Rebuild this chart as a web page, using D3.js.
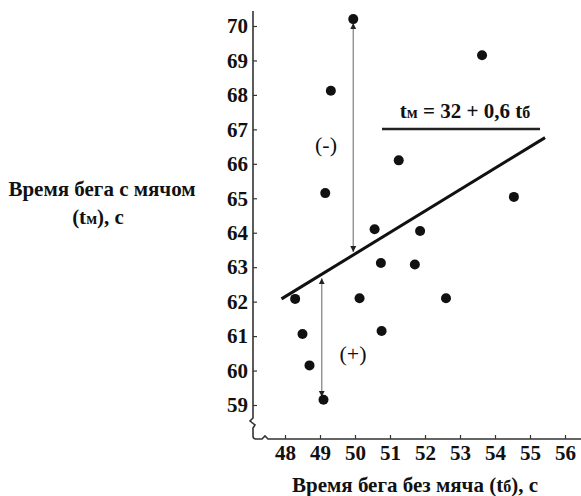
<!DOCTYPE html>
<html>
<head>
<meta charset="utf-8">
<script src="https://cdn.jsdelivr.net/npm/d3@7"></script>
<style>
  body { margin: 0; background: #fff; }
</style>
</head>
<body>
<div id="content"></div>
<script>
// time without ball (x) and with ball (y), seconds
var tB = [49.95, 53.63, 49.31, 51.25, 49.15, 54.54, 50.56, 51.86, 50.74, 51.71, 52.6, 48.29, 50.13, 48.5, 50.76, 48.7, 49.1];
var tM = [70.2, 69.15, 68.12, 66.1, 65.15, 65.04, 64.1, 64.05, 63.12, 63.08, 62.1, 62.08, 62.1, 61.06, 61.15, 60.15, 59.15];
var xTicks = [48, 49, 50, 51, 52, 53, 54, 55, 56];
var yTicks = [59, 60, 61, 62, 63, 64, 65, 66, 67, 68, 69, 70];
// regression line as drawn in the figure
var lineX = [47.9, 55.43];
var lineY = [62.08, 66.76];
// residual arrows: x and the observed value
var residX = [49.95, 49.05];
var residFrom = [70.2, 59.15];

var FONT = "'Liberation Serif', 'Times New Roman', serif";
var width = 581, height = 496;
var svg = d3.select("#content").append("svg")
    .attr("width", width)
    .attr("height", height);

var x = d3.scaleLinear().domain([48, 56]).range([285, 565]);
var y = d3.scaleLinear().domain([59, 70]).range([405, 26]);
var fit = d3.scaleLinear().domain(lineX).range(lineY);

var axisX0 = 253, axisY0 = 439;

function label(sel, size, weight) {
  return sel.style("font-family", FONT)
    .style("font-size", size + "px")
    .style("font-weight", weight || "bold")
    .attr("fill", "#111");
}

// arrow marker
svg.append("defs").append("marker")
    .attr("id", "arr")
    .attr("viewBox", "0 0 10 10")
    .attr("refX", 10).attr("refY", 5)
    .attr("markerWidth", 6).attr("markerHeight", 9)
    .attr("markerUnits", "userSpaceOnUse")
    .attr("orient", "auto-start-reverse")
  .append("path")
    .attr("d", "M0,0L10,5L0,10z")
    .attr("fill", "#222");

// axes lines with breaks
svg.append("path")
    .attr("d", "M" + axisX0 + ",11V418l-3,3l5,4l-2,3V" + (axisY0 - 3) + "q0,3 3,3h6l3,-3l3,3H" + width)
    .attr("fill", "none")
    .attr("stroke", "#333")
    .attr("stroke-width", 1.6);

var yAxis = d3.axisLeft(y)
    .tickValues(yTicks)
    .tickSize(-4)
    .tickPadding(5)
    .tickFormat(d3.format("d"));
var gy = svg.append("g")
    .attr("transform", "translate(" + axisX0 + ",0)")
    .call(yAxis);
gy.select(".domain").remove();
gy.selectAll("line").attr("stroke", "#333").attr("stroke-width", 1.2);
label(gy.selectAll("text"), 21);

var xAxis = d3.axisBottom(x)
    .tickValues(xTicks)
    .tickSize(-4)
    .tickPadding(6)
    .tickFormat(d3.format("d"));
var gx = svg.append("g")
    .attr("transform", "translate(0," + axisY0 + ")")
    .call(xAxis);
gx.select(".domain").remove();
gx.selectAll("line").attr("stroke", "#333").attr("stroke-width", 1.2);
label(gx.selectAll("text"), 21);

// residual arrows
residX.forEach(function (rx, i) {
  var a = residFrom[i], b = fit(rx);
  var top = Math.max(a, b), bot = Math.min(a, b);
  svg.append("line")
      .attr("x1", x(rx)).attr("x2", x(rx))
      .attr("y1", y(top) + 4).attr("y2", y(bot) - 3)
      .attr("stroke", "#888")
      .attr("stroke-width", 1.3)
      .attr("marker-start", "url(#arr)")
      .attr("marker-end", "url(#arr)");
});

// regression line
svg.append("line")
    .attr("x1", x(lineX[0])).attr("y1", y(lineY[0]))
    .attr("x2", x(lineX[1])).attr("y2", y(lineY[1]))
    .attr("stroke", "#111")
    .attr("stroke-width", 3);

// points
svg.selectAll("circle.pt")
    .data(tB.map(function (d, i) { return [d, tM[i]]; }))
  .enter().append("circle")
    .attr("class", "pt")
    .attr("cx", function (d) { return x(d[0]); })
    .attr("cy", function (d) { return y(d[1]); })
    .attr("r", 5)
    .attr("fill", "#111");

// equation
var eq = label(svg.append("text"), 21)
    .attr("x", 465).attr("y", 118)
    .attr("text-anchor", "middle");
eq.append("tspan").text("t");
eq.append("tspan").style("font-size", "16px").text("м");
eq.append("tspan").text(" = 32 + 0,6  t");
eq.append("tspan").style("font-size", "16px").text("б");
svg.append("line")
    .attr("x1", 382).attr("x2", 540)
    .attr("y1", 129).attr("y2", 129)
    .attr("stroke", "#222")
    .attr("stroke-width", 2.5);

// signs
label(svg.append("text"), 22, "normal").attr("x", 326).attr("y", 152)
    .attr("text-anchor", "middle")
    .text("(-)");
label(svg.append("text"), 22, "normal").attr("x", 353).attr("y", 361)
    .attr("text-anchor", "middle")
    .text("(+)");

// axis titles
label(svg.append("text"), 21).attr("x", 102).attr("y", 196)
    .attr("text-anchor", "middle")
    .text("Время бега с мячом");
var yt = label(svg.append("text"), 21).attr("x", 98).attr("y", 224)
    .attr("text-anchor", "middle");
yt.append("tspan").text("(t");
yt.append("tspan").style("font-size", "16px").text("м");
yt.append("tspan").text("), с");

var xt = label(svg.append("text"), 21).attr("x", 415).attr("y", 492)
    .attr("text-anchor", "middle");
xt.append("tspan").text("Время бега без мяча (t");
xt.append("tspan").style("font-size", "16px").text("б");
xt.append("tspan").text("), с");
</script>
</body>
</html>
